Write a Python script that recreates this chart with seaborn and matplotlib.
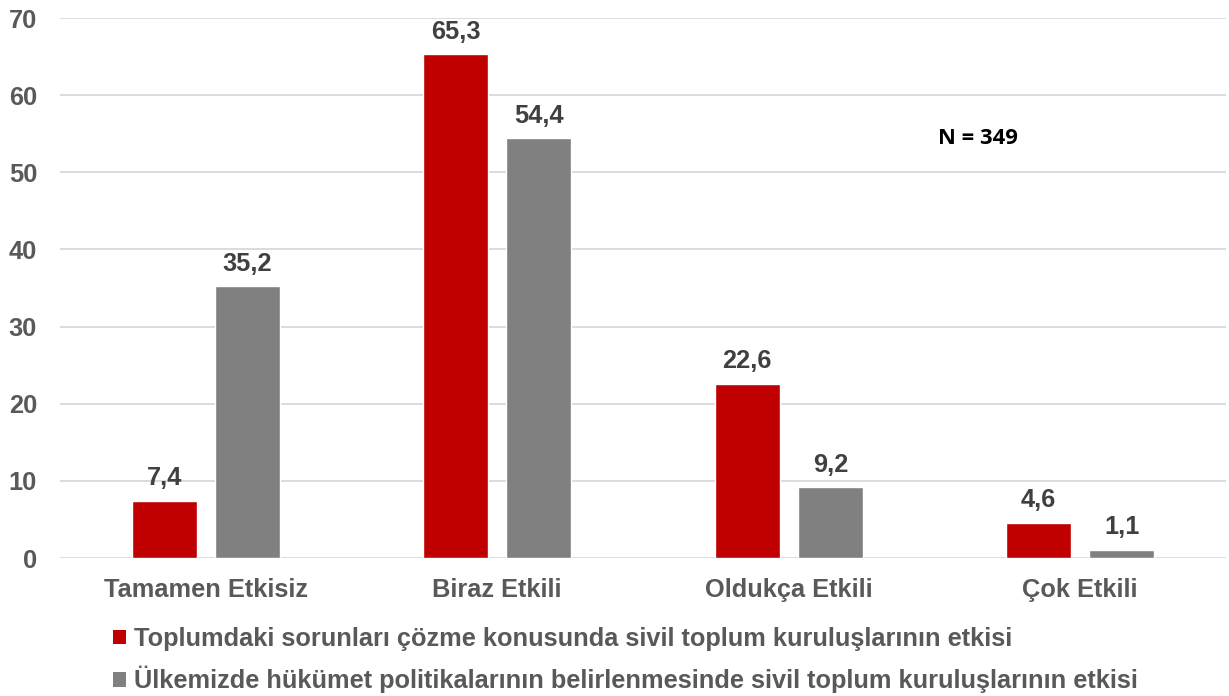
import pandas as pd
import matplotlib
matplotlib.use("Agg")
import matplotlib.pyplot as plt
import seaborn as sns
from matplotlib.patches import Patch

categories = ["Tamamen Etkisiz", "Biraz Etkili", "Oldukça Etkili", "Çok Etkili"]
series_names = [
    "Toplumdaki sorunları çözme konusunda sivil toplum kuruluşlarının etkisi",
    "Ülkemizde hükümet politikalarının belirlenmesinde sivil toplum kuruluşlarının etkisi",
]
problems_vals = [7.4, 65.3, 22.6, 4.6]
policy_vals = [35.2, 54.4, 9.2, 1.1]
colors = ["#C00000", "#808080"]

df = pd.DataFrame({
    "kategori": categories * 2,
    "seri": [series_names[0]] * 4 + [series_names[1]] * 4,
    "deger": problems_vals + policy_vals,
})

sns.set_style("white")
plt.rcParams["font.family"] = ["Liberation Sans", "DejaVu Sans"]
txt = "#595959"
fs = 18.3

fig = plt.figure(figsize=(12.29, 6.96), dpi=100)
ax = fig.add_axes([60 / 1229, 1 - 558 / 696, 1166 / 1229, 540 / 696])

sns.barplot(data=df, x="kategori", y="deger", hue="seri", palette=colors, saturation=1,
            width=0.572, gap=0.22, ax=ax, legend=False, zorder=3)

# value labels with comma decimals
for cont in ax.containers:
    ax.bar_label(cont, labels=[f"{v:.1f}".replace(".", ",") for v in cont.datavalues],
                 padding=7.5, fontsize=fs, fontweight="bold", color="#404040")

ax.set_ylim(0, 70)
ax.set_xlim(-0.5, 3.5)
ax.set_yticks(range(0, 71, 10))
ax.set_yticklabels([str(t) for t in range(0, 71, 10)], fontweight="bold")
ax.set_xticks(range(len(categories)))
ax.set_xticklabels(categories, fontweight="bold")
ax.yaxis.grid(True, color="#D9D9D9", linewidth=1.3, zorder=0)
ax.set_axisbelow(True)
for s in ax.spines.values():
    s.set_visible(False)
ax.set_xlabel("")
ax.set_ylabel("")
ax.tick_params(axis="y", length=0, pad=16.5, labelsize=fs, labelcolor=txt)
ax.tick_params(axis="x", length=0, pad=14.5, labelsize=fs, labelcolor=txt)

ax.text(2.65, 54.4, "N = 349", fontsize=15.8, fontweight="bold", color="black",
        ha="center", va="center", family=["Open Sans", "DejaVu Sans"])

handles = [Patch(facecolor=c, edgecolor="none") for c in colors]
fig.legend(handles, series_names, loc="upper left", bbox_to_anchor=(113 / 1229, 1 - 627 / 696),
           frameon=False, ncol=1, handlelength=0.52, handleheight=0.52, handletextpad=0.3,
           labelspacing=0.58, prop={"size": fs, "weight": "bold"}, labelcolor=txt,
           borderaxespad=0, borderpad=0)

fig.savefig("out.png", dpi=100)
